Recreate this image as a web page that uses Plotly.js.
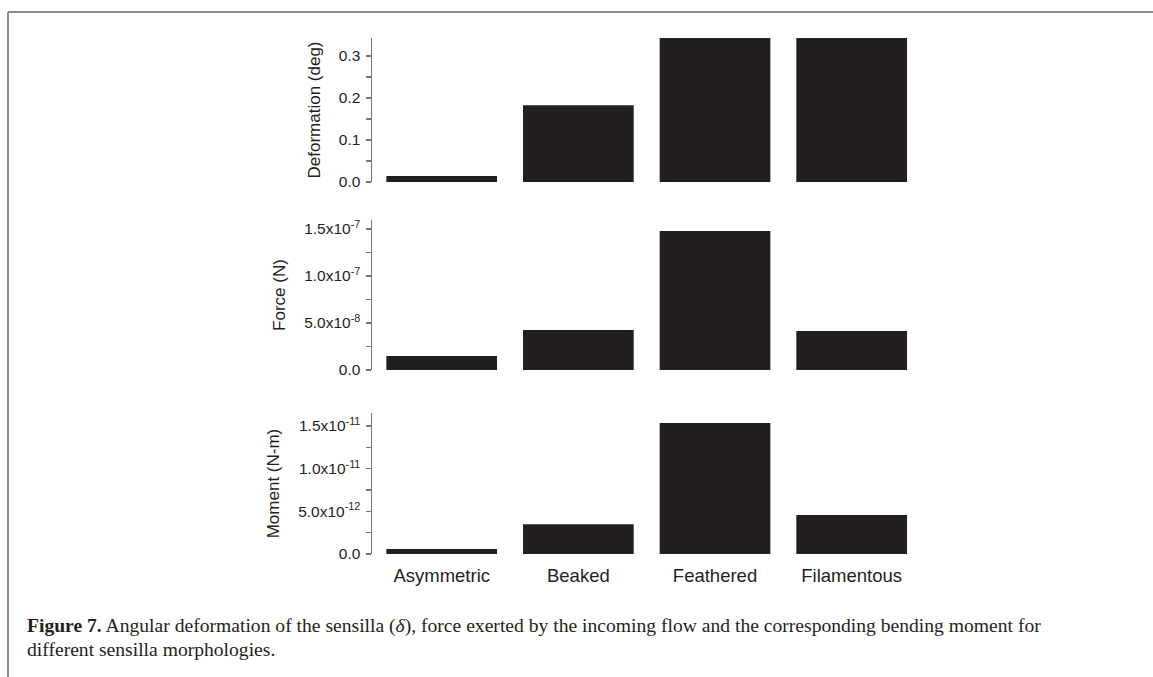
<!DOCTYPE html>
<html>
<head>
<meta charset="utf-8">
<script src="https://cdn.plot.ly/plotly-3.0.1.min.js"></script>
<style>
  html, body { margin: 0; padding: 0; background: #fff; }
  #fig { width: 1153px; height: 677px; }
</style>
</head>
<body>
<div id="fig"></div>
<script>
// Sensilla morphologies on the shared category axis
const morphologies = ['Asymmetric', 'Beaked', 'Feathered', 'Filamentous'];

// Angular deformation (deg)
const deformation = [0.014, 0.183, 0.343, 0.343];
// Force exerted by the incoming flow (N)
const force = [1.5e-8, 4.25e-8, 1.48e-7, 4.15e-8];
// Bending moment (N-m)
const moment = [6.0e-13, 3.5e-12, 1.535e-11, 4.57e-12];

// Tick values and labels of the three value axes
const defTickVals = [0, 0.1, 0.2, 0.3];
const defTickText = ['0.0', '0.1', '0.2', '0.3'];
const forceTickVals = [0, 5e-8, 1e-7, 1.5e-7];
const forceTickText = ['0.0', '5.0x10<sup>-8</sup>', '1.0x10<sup>-7</sup>', '1.5x10<sup>-7</sup>'];
const momentTickVals = [0, 5e-12, 1e-11, 1.5e-11];
const momentTickText = ['0.0', '5.0x10<sup>-12</sup>', '1.0x10<sup>-11</sup>', '1.5x10<sup>-11</sup>'];

const W = 1153, H = 677;
const px = v => v / W;            // horizontal pixel -> paper
const py = v => (H - v) / H;      // vertical pixel -> paper

const barColor = '#231f20';
const axisGray = '#767676';
const textColor = '#231f20';
const sans = 'Liberation Sans, Arial, sans-serif';
const serif = 'Liberation Serif, Times New Roman, serif';

function barTrace(y, xa, ya) {
  return {
    type: 'bar', x: morphologies, y: y, xaxis: xa, yaxis: ya,
    marker: { color: barColor, line: { width: 0 } },
    hoverinfo: 'x+y', showlegend: false
  };
}

const data = [
  barTrace(deformation, 'x', 'y'),
  barTrace(force, 'x2', 'y2'),
  barTrace(moment, 'x3', 'y3')
];

const xDomain = [px(372), px(920)];
const xRange = [-0.51, 3.5];

function xAxis(anchor, showLabels) {
  return {
    domain: xDomain, range: xRange, anchor: anchor,
    type: 'category', showline: false, showgrid: false, zeroline: false,
    ticks: '', showticklabels: showLabels, ticklabelstandoff: 8,
    tickfont: { family: sans, size: 18.5, color: textColor },
    fixedrange: true
  };
}

function yAxis(anchor, domain, range, vals, text, minorStep, title, standoff) {
  return {
    domain: domain, range: range, anchor: anchor,
    showline: true, linecolor: axisGray, linewidth: 1.5,
    showgrid: false, zeroline: false,
    ticks: 'outside', ticklen: 5, tickwidth: 1.5, tickcolor: axisGray,
    ticklabelstandoff: 2,
    tickmode: 'array', tickvals: vals, ticktext: text,
    minor: { ticks: 'outside', dtick: minorStep, tick0: 0, ticklen: 5, tickwidth: 1.5, tickcolor: axisGray, showgrid: false },
    tickfont: { family: sans, size: 15.5, color: textColor },
    title: { text: title, font: { family: sans, size: 17, color: textColor }, standoff: standoff },
    fixedrange: true
  };
}

const layout = {
  width: W, height: H,
  margin: { l: 0, r: 0, t: 0, b: 0 },
  paper_bgcolor: '#fff', plot_bgcolor: 'rgba(0,0,0,0)',
  bargap: 0.19,
  xaxis: xAxis('y', false),
  xaxis2: xAxis('y2', false),
  xaxis3: xAxis('y3', true),
  yaxis: yAxis('x', [py(182), py(38)], [0, 0.343], defTickVals, defTickText, 0.05, 'Deformation (deg)', 14),
  yaxis2: yAxis('x2', [py(370), py(220)], [0, 1.596e-7], forceTickVals, forceTickText, 2.5e-8, 'Force (N)', 14),
  yaxis3: yAxis('x3', [py(554), py(413)], [0, 1.652e-11], momentTickVals, momentTickText, 2.5e-12, 'Moment (N-m)', 14),
  shapes: [
    // page frame: top rule and left rule
    { type: 'line', xref: 'paper', yref: 'paper', x0: px(8), x1: 1, y0: py(12), y1: py(12), line: { color: '#8c8c8c', width: 2 } },
    { type: 'line', xref: 'paper', yref: 'paper', x0: px(8), x1: px(8), y0: py(12), y1: 0, line: { color: '#8c8c8c', width: 2 } }
  ],
  annotations: [
    {
      xref: 'paper', yref: 'paper', x: px(25), y: py(626), xanchor: 'left', yanchor: 'middle',
      align: 'left', showarrow: false,
      font: { family: serif, size: 19.6, color: textColor },
      text: '<b>Figure 7.</b> Angular deformation of the sensilla (<i>δ</i>), force exerted by the incoming flow and the corresponding bending moment for'
    },
    {
      xref: 'paper', yref: 'paper', x: px(25), y: py(649), xanchor: 'left', yanchor: 'middle',
      align: 'left', showarrow: false,
      font: { family: serif, size: 19.6, color: textColor },
      text: 'different sensilla morphologies.'
    }
  ]
};

Plotly.newPlot('fig', data, layout, { displayModeBar: false, staticPlot: true });
</script>
</body>
</html>
